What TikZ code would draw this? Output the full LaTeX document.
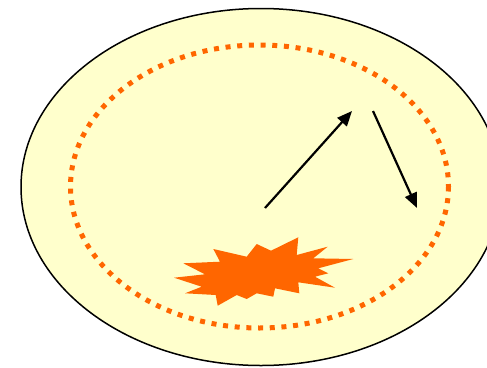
\documentclass[tikz,border=0pt]{standalone}
\usetikzlibrary{arrows.meta}
\definecolor{paleyellow}{HTML}{FFFFCC}
\definecolor{burst}{HTML}{FF6600}
\begin{document}
\begin{tikzpicture}[x=1pt,y=-1pt,
  arrowline/.style={line width=2.2pt,-{Triangle[length=15pt,width=12.5pt]}},
  dotring/.style={draw=burst,line width=5pt,dash pattern=on 5pt off 6.7pt},
  outerring/.style={draw=black,line width=1.5pt,fill=paleyellow}]
\useasboundingbox (0,0) rectangle (487,367);
\clip (0,0) rectangle (487,367);
\fill[white] (0,0) rectangle (487,367);
\draw[outerring] (261,187) ellipse [x radius=240, y radius=178.5];
\draw[dotring] (259.5,186.5) ellipse [x radius=189, y radius=141.5];
\fill[burst] (174,277.7) -- (205,274.3) -- (183.3,263.3) -- (220,261.7) -- (213.3,249)
  -- (246.7,256.7) -- (256.7,244) -- (271,250.7) -- (298.3,237.3) -- (296.7,255)
  -- (327.7,246.7) -- (313.3,258.3) -- (353.3,259) -- (318.3,268.3) -- (328.3,273.3)
  -- (315,276.7) -- (335,287.7) -- (298.3,282.3) -- (299.3,293.3) -- (275,288.3)
  -- (273.3,296.7) -- (256.7,293.3) -- (246.7,299) -- (236.7,295) -- (217.7,305.7)
  -- (215.7,295) -- (185,293.3) -- (201.7,286.7) -- cycle;
\coordinate (a1s) at (265,208);
\coordinate (a1e) at (352,111);
\coordinate (a2s) at (373,111);
\coordinate (a2e) at (417,208);
\draw[arrowline] (a1s) -- (a1e);
\draw[arrowline] (a2s) -- (a2e);
\end{tikzpicture}
\end{document}
